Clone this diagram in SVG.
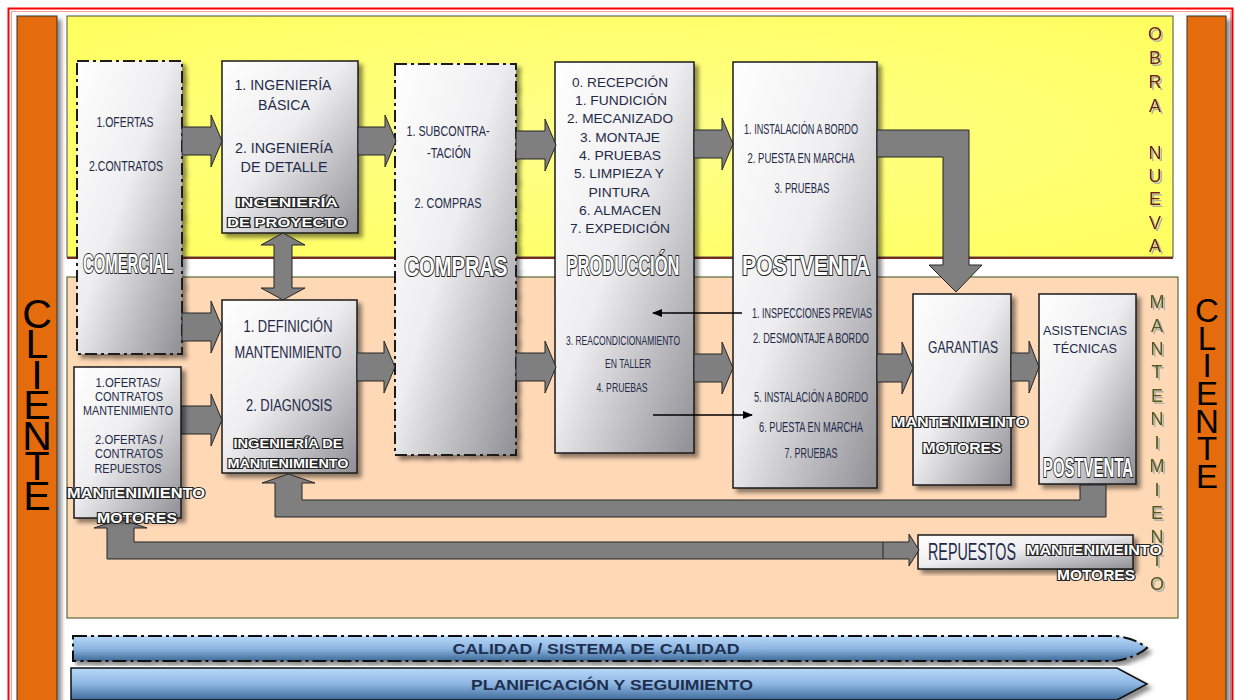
<svg xmlns="http://www.w3.org/2000/svg" width="1235" height="700" viewBox="0 0 1235 700">
<defs>
<linearGradient id="boxGrad" x1="0" y1="0" x2="1" y2="1">
<stop offset="0" stop-color="#FFFFFF"/>
<stop offset="0.45" stop-color="#EEEEF0"/>
<stop offset="1" stop-color="#8E8E94"/>
</linearGradient>
<radialGradient id="yelGrad" cx="0.5" cy="0.5" r="0.7">
<stop offset="0" stop-color="#FFFF8C"/>
<stop offset="1" stop-color="#FFFF5E"/>
</radialGradient>
<linearGradient id="barGrad" x1="0" y1="0" x2="0" y2="1">
<stop offset="0" stop-color="#B8D8F8"/>
<stop offset="0.5" stop-color="#8DB6E2"/>
<stop offset="1" stop-color="#3E6A98"/>
</linearGradient>
<filter id="shadow" x="-10%" y="-10%" width="130%" height="130%">
<feDropShadow dx="4" dy="4" stdDeviation="2" flood-color="#000" flood-opacity="0.45"/>
</filter>
<filter id="tshadow" x="-20%" y="-20%" width="150%" height="150%">
<feDropShadow dx="2" dy="2" stdDeviation="0.6" flood-color="#AAAAAA" flood-opacity="0.9"/>
</filter>
<marker id="ah" markerWidth="10" markerHeight="8" refX="9" refY="4" orient="auto" markerUnits="userSpaceOnUse">
<path d="M0,0 L10,4 L0,8 Z" fill="#000"/>
</marker>
<style>
.box{fill:url(#boxGrad);stroke:#1a1a1a;stroke-width:1.5;filter:url(#shadow)}
.dash{stroke-dasharray:12 4 3 4;stroke-width:2}
.t{font-family:"Liberation Sans",Arial,sans-serif;fill:#1F2A48;text-anchor:middle}
.o{font-family:"Liberation Sans",Arial,sans-serif;font-weight:bold;fill:#FFFFFF;stroke:#222;stroke-width:2.2;paint-order:stroke fill;text-anchor:middle}
.arr{fill:#7F7F7F;stroke:#262626;stroke-width:1}
.thin{stroke:#000;stroke-width:1.5;fill:none;marker-end:url(#ah)}
.vl{font-family:"Liberation Sans",Arial,sans-serif;font-size:18px;text-anchor:middle;filter:url(#tshadow)}
.cl{font-family:"Liberation Sans",Arial,sans-serif;fill:#000;text-anchor:middle}
.bt{font-family:"Liberation Sans",Arial,sans-serif;font-weight:bold;fill:#1F2F4F;text-anchor:middle}
</style>
</defs>
<rect width="1235" height="700" fill="#FFFFFF"/>
<!-- frame -->
<rect x="8.5" y="8.5" width="1224" height="700" fill="none" stroke="#FF0000" stroke-width="2"/>
<rect x="11.5" y="11.5" width="1219" height="700" fill="none" stroke="#F4A0A0" stroke-width="1"/>

<!-- cliente bars -->
<g id="cliente-left">
<rect x="17" y="16" width="40" height="700" fill="#E46C0A" stroke="#333" stroke-width="1" filter="url(#shadow)"/>
<text class="cl" font-size="41"><tspan x="37" y="328">C</tspan><tspan x="37" y="358">L</tspan><tspan x="37" y="389">I</tspan><tspan x="37" y="419">E</tspan><tspan x="37" y="450">N</tspan><tspan x="37" y="480">T</tspan><tspan x="37" y="510">E</tspan></text>
</g>
<g id="cliente-right">
<rect x="1187" y="16" width="39" height="700" fill="#E46C0A" stroke="#333" stroke-width="1" filter="url(#shadow)"/>
<text class="cl" font-size="33"><tspan x="1207" y="322">C</tspan><tspan x="1207" y="350">L</tspan><tspan x="1207" y="377">I</tspan><tspan x="1207" y="405">E</tspan><tspan x="1207" y="433">N</tspan><tspan x="1207" y="460">T</tspan><tspan x="1207" y="488">E</tspan></text>
</g>

<!-- zones -->
<g id="zone-obra-nueva">
<rect x="67" y="16" width="1106" height="241" fill="url(#yelGrad)" stroke="#4d4d4d" stroke-width="1"/>
<line x1="67" y1="258" x2="1173" y2="258" stroke="#7A2A20" stroke-width="2"/>
<text class="vl" fill="#6B2424"><tspan x="1155" y="40">O</tspan><tspan x="1155" y="64">B</tspan><tspan x="1155" y="88">R</tspan><tspan x="1155" y="112">A</tspan><tspan x="1155" y="159">N</tspan><tspan x="1155" y="182">U</tspan><tspan x="1155" y="205">E</tspan><tspan x="1155" y="229">V</tspan><tspan x="1155" y="252">A</tspan></text>
</g>
<g id="zone-mantenimiento">
<rect x="67" y="277" width="1111" height="341" fill="#FFD8B6" stroke="#5A6B3A" stroke-width="1.2"/>
<text class="vl" fill="#4F5A1E"><tspan x="1157" y="308">M</tspan><tspan x="1157" y="332">A</tspan><tspan x="1157" y="355">N</tspan><tspan x="1157" y="378">T</tspan><tspan x="1157" y="402">E</tspan><tspan x="1157" y="425">N</tspan><tspan x="1157" y="449">I</tspan><tspan x="1157" y="472">M</tspan><tspan x="1157" y="496">I</tspan><tspan x="1157" y="519">E</tspan><tspan x="1157" y="543">N</tspan><tspan x="1157" y="566">T</tspan><tspan x="1157" y="590">O</tspan></text>
</g>

<!-- nodes -->
<g id="comercial">
<rect class="box dash" x="77" y="61" width="105" height="293"/>
<text class="t" x="125" y="127" font-size="14" textLength="57" lengthAdjust="spacingAndGlyphs">1.OFERTAS</text>
<text class="t" x="126" y="171" font-size="14" textLength="74" lengthAdjust="spacingAndGlyphs">2.CONTRATOS</text>
<text class="o" x="128" y="273" font-size="27" textLength="90" lengthAdjust="spacingAndGlyphs">COMERCIAL</text>
</g>
<g id="ingenieria-proyecto">
<rect class="box" x="222" y="61" width="136" height="172"/>
<text class="t" x="283" y="90" font-size="15" textLength="97" lengthAdjust="spacingAndGlyphs">1. INGENIERÍA</text>
<text class="t" x="284" y="110" font-size="15" textLength="52" lengthAdjust="spacingAndGlyphs">BÁSICA</text>
<text class="t" x="284" y="153" font-size="15" textLength="98" lengthAdjust="spacingAndGlyphs">2. INGENIERÍA</text>
<text class="t" x="284" y="172" font-size="15" textLength="87" lengthAdjust="spacingAndGlyphs">DE DETALLE</text>
<text class="o" x="287" y="207" font-size="13" stroke-width="2" textLength="102" lengthAdjust="spacingAndGlyphs">INGENIERÍA</text>
<text class="o" x="287" y="227" font-size="13" stroke-width="2" textLength="120" lengthAdjust="spacingAndGlyphs">DE PROYECTO</text>
</g>
<g id="ingenieria-mantenimiento">
<rect class="box" x="222" y="300" width="135" height="173"/>
<text class="t" x="288" y="332" font-size="17" textLength="89" lengthAdjust="spacingAndGlyphs">1. DEFINICIÓN</text>
<text class="t" x="288" y="358" font-size="17" textLength="107" lengthAdjust="spacingAndGlyphs">MANTENIMIENTO</text>
<text class="t" x="289" y="411" font-size="17" textLength="86" lengthAdjust="spacingAndGlyphs">2. DIAGNOSIS</text>
<text class="o" x="288" y="448" font-size="13" stroke-width="2" textLength="109" lengthAdjust="spacingAndGlyphs">INGENIERÍA DE</text>
<text class="o" x="288" y="468" font-size="13" stroke-width="2" textLength="121" lengthAdjust="spacingAndGlyphs">MANTENIMIENTO</text>
</g>
<g id="compras">
<rect class="box dash" x="395" y="64" width="121" height="391"/>
<text class="t" x="448" y="136" font-size="15" textLength="83" lengthAdjust="spacingAndGlyphs">1. SUBCONTRA-</text>
<text class="t" x="449" y="158" font-size="15" textLength="44" lengthAdjust="spacingAndGlyphs">-TACIÓN</text>
<text class="t" x="448" y="208" font-size="15" textLength="67" lengthAdjust="spacingAndGlyphs">2. COMPRAS</text>
<text class="o" x="456" y="276" font-size="27" textLength="103" lengthAdjust="spacingAndGlyphs">COMPRAS</text>
</g>
<g id="produccion">
<rect class="box" x="555" y="62" width="139" height="391"/>
<text class="t" x="620" y="87" font-size="13" textLength="96" lengthAdjust="spacingAndGlyphs">0. RECEPCIÓN</text>
<text class="t" x="621" y="105" font-size="13" textLength="92" lengthAdjust="spacingAndGlyphs">1. FUNDICIÓN</text>
<text class="t" x="620" y="123" font-size="13" textLength="106" lengthAdjust="spacingAndGlyphs">2. MECANIZADO</text>
<text class="t" x="620" y="142" font-size="13" textLength="80" lengthAdjust="spacingAndGlyphs">3. MONTAJE</text>
<text class="t" x="620" y="160" font-size="13" textLength="82" lengthAdjust="spacingAndGlyphs">4. PRUEBAS</text>
<text class="t" x="619" y="178" font-size="13" textLength="90" lengthAdjust="spacingAndGlyphs">5. LIMPIEZA Y</text>
<text class="t" x="619" y="197" font-size="13" textLength="61" lengthAdjust="spacingAndGlyphs">PINTURA</text>
<text class="t" x="620" y="215" font-size="13" textLength="82" lengthAdjust="spacingAndGlyphs">6. ALMACEN</text>
<text class="t" x="620" y="233" font-size="13" textLength="100" lengthAdjust="spacingAndGlyphs">7. EXPEDICIÓN</text>
<text class="o" x="623" y="275" font-size="27" textLength="113" lengthAdjust="spacingAndGlyphs">PRODUCCIÓN</text>
<text class="t" x="623" y="345" font-size="13" textLength="114" lengthAdjust="spacingAndGlyphs">3. REACONDICIONAMIENTO</text>
<text class="t" x="628" y="368" font-size="13" textLength="46" lengthAdjust="spacingAndGlyphs">EN TALLER</text>
<text class="t" x="622" y="392" font-size="13" textLength="51" lengthAdjust="spacingAndGlyphs">4. PRUEBAS</text>
</g>
<g id="postventa">
<rect class="box" x="733" y="62" width="144" height="426"/>
<text class="t" x="801" y="134" font-size="14" textLength="114" lengthAdjust="spacingAndGlyphs">1. INSTALACIÓN A BORDO</text>
<text class="t" x="801" y="163" font-size="14" textLength="107" lengthAdjust="spacingAndGlyphs">2. PUESTA  EN MARCHA</text>
<text class="t" x="802" y="193" font-size="14" textLength="55" lengthAdjust="spacingAndGlyphs">3. PRUEBAS</text>
<text class="o" x="806" y="275" font-size="27" textLength="128" lengthAdjust="spacingAndGlyphs">POSTVENTA</text>
<text class="t" x="812" y="318" font-size="14" textLength="120" lengthAdjust="spacingAndGlyphs">1. INSPECCIONES PREVIAS</text>
<text class="t" x="811" y="343" font-size="14" textLength="116" lengthAdjust="spacingAndGlyphs">2. DESMONTAJE A BORDO</text>
<text class="t" x="811" y="402" font-size="14" textLength="114" lengthAdjust="spacingAndGlyphs">5. INSTALACIÓN A BORDO</text>
<text class="t" x="811" y="432" font-size="14" textLength="104" lengthAdjust="spacingAndGlyphs">6. PUESTA EN MARCHA</text>
<text class="t" x="811" y="458" font-size="14" textLength="53" lengthAdjust="spacingAndGlyphs">7. PRUEBAS</text>
</g>
<g id="garantias">
<rect class="box" x="913" y="294" width="98" height="191"/>
<text class="t" x="963" y="353" font-size="17" textLength="70" lengthAdjust="spacingAndGlyphs">GARANTIAS</text>
<text class="o" x="960" y="427" font-size="14" stroke-width="2" textLength="136" lengthAdjust="spacingAndGlyphs">MANTENIMEINTO</text>
<text class="o" x="962" y="453" font-size="14" stroke-width="2" textLength="79" lengthAdjust="spacingAndGlyphs">MOTORES</text>
</g>
<g id="asistencias">
<rect class="box" x="1039" y="294" width="97" height="190"/>
<text class="t" x="1085" y="335" font-size="13" textLength="84" lengthAdjust="spacingAndGlyphs">ASISTENCIAS</text>
<text class="t" x="1085" y="353" font-size="13" textLength="64" lengthAdjust="spacingAndGlyphs">TÉCNICAS</text>
<text class="o" x="1088" y="477" font-size="27" textLength="90" lengthAdjust="spacingAndGlyphs">POSTVENTA</text>
</g>
<g id="repuestos">
<rect class="box" x="918" y="535" width="215" height="34"/>
<text class="t" x="972" y="560" font-size="23" textLength="88" lengthAdjust="spacingAndGlyphs">REPUESTOS</text>
<text class="o" x="1094" y="555" font-size="14" stroke-width="2" textLength="136" lengthAdjust="spacingAndGlyphs">MANTENIMEINTO</text>
<text class="o" x="1096" y="580" font-size="14" stroke-width="2" textLength="78" lengthAdjust="spacingAndGlyphs">MOTORES</text>
</g>

<!-- connectors -->
<g id="connectors">
<polygon class="arr" points="182,127 211,127 211,115 222,141 211,167 211,155 182,155"/>
<polygon class="arr" points="358,127 385,127 385,115 396,141 385,167 385,155 358,155"/>
<polygon class="arr" points="516,131 545,131 545,119 556,145 545,171 545,159 516,159"/>
<polygon class="arr" points="694,130 722,130 722,118 733,144 722,170 722,158 694,158"/>
<polygon class="arr" points="877,130 969,130 969,265 982,265 956,292 929,265 943,265 943,157 877,157"/>
<polygon class="arr" points="283,233 305,245 292,245 292,288 305,288 283,300 261,288 274,288 274,245 261,245"/>
<polygon class="arr" points="182,313 211,313 211,301 222,327 211,353 211,341 182,341"/>
<polygon class="arr" points="181,406 211,406 211,394 222,420 211,446 211,434 181,434"/>
<polygon class="arr" points="357,353 384,353 384,341 395,367 384,393 384,381 357,381"/>
<polygon class="arr" points="516,353 545,353 545,341 556,367 545,393 545,381 516,381"/>
<polygon class="arr" points="694,354 722,354 722,342 733,368 722,394 722,382 694,382"/>
<polygon class="arr" points="877,354 902,354 902,342 913,368 902,394 902,382 877,382"/>
<polygon class="arr" points="1011,353 1029,353 1029,341 1039,367 1029,393 1029,381 1011,381"/>
<polygon class="arr" points="1080,485 1106,485 1106,517 275,517 275,483 262,483 288.5,474 315,483 302,483 302,500 1080,500"/>
<polygon class="arr" points="107,559 107,528 94,528 120.5,519 147,528 134,528 134,542 909,542 909,534 919,550 909,566 909,559"/>
<line x1="883" y1="542" x2="883" y2="559" stroke="#262626" stroke-width="1"/>
<line class="thin" x1="742" y1="313" x2="653" y2="313"/>
<line class="thin" x1="653" y1="415" x2="752" y2="415"/>
</g>

<!-- mantenimiento motores (drawn over feedback arrowhead) -->
<g id="mantenimiento-motores">
<rect class="box" x="74" y="367" width="107" height="151"/>
<text class="t" x="128" y="387" font-size="12" textLength="65" lengthAdjust="spacingAndGlyphs">1.OFERTAS/</text>
<text class="t" x="129" y="401" font-size="12" textLength="68" lengthAdjust="spacingAndGlyphs">CONTRATOS</text>
<text class="t" x="128" y="415" font-size="12" textLength="90" lengthAdjust="spacingAndGlyphs">MANTENIMIENTO</text>
<text class="t" x="129" y="444" font-size="12" textLength="68" lengthAdjust="spacingAndGlyphs">2.OFERTAS /</text>
<text class="t" x="129" y="458" font-size="12" textLength="68" lengthAdjust="spacingAndGlyphs">CONTRATOS</text>
<text class="t" x="128" y="473" font-size="12" textLength="67" lengthAdjust="spacingAndGlyphs">REPUESTOS</text>
<text class="o" x="136" y="498" font-size="14" stroke-width="2" textLength="138" lengthAdjust="spacingAndGlyphs">MANTENIMIENTO</text>
<text class="o" x="137" y="523" font-size="14" stroke-width="2" textLength="80" lengthAdjust="spacingAndGlyphs">MOTORES</text>
</g>

<!-- bottom bars -->
<g id="calidad">
<path d="M73,636 L1115,636 Q1135,638 1147,648 Q1135,658 1115,661 L73,661 Z" fill="url(#barGrad)" stroke="#111" stroke-width="2" stroke-dasharray="14 4 3 4" filter="url(#shadow)"/>
<text class="bt" x="596" y="654" font-size="14" textLength="287" lengthAdjust="spacingAndGlyphs">CALIDAD / SISTEMA DE CALIDAD</text>
</g>
<g id="planificacion">
<path d="M71,668 L1117,668 L1147,684 L1117,700 L71,700 Z" fill="url(#barGrad)" stroke="#111" stroke-width="1.5" filter="url(#shadow)"/>
<text class="bt" x="612" y="690" font-size="15" textLength="282" lengthAdjust="spacingAndGlyphs">PLANIFICACIÓN Y SEGUIMIENTO</text>
</g>
</svg>
